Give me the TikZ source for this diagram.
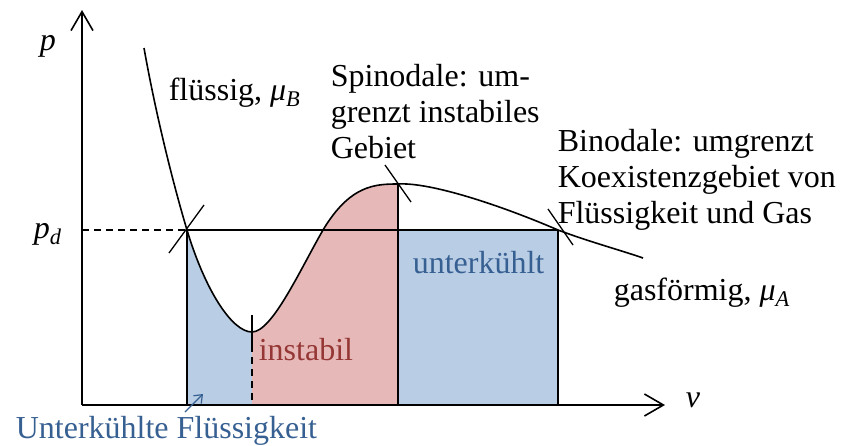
\documentclass[tikz,border=0pt]{standalone}
\usepackage{fontspec}
\setmainfont{Liberation Serif}
\usetikzlibrary{arrows.meta}

\definecolor{liqblue}{HTML}{B9CDE5}
\definecolor{instred}{HTML}{E6B9B8}
\definecolor{txtblue}{HTML}{376092}
\definecolor{txtred}{HTML}{953735}

\newcommand{\mvar}[1]{\textit{#1}}
\newcommand{\phase}[2]{#1, \mvar{μ}\textsubscript{\mvar{#2}}}
\tikzset{
            axis/.style={-{Straight Barb[length=19pt,width=22pt,line width=1.6pt]}},
            crosstick/.style={line width=1.3pt},
            dashline/.style={dash pattern=on 7pt off 5pt}
        }

\begin{document}
\begin{tikzpicture}[
                    x=1pt, y=-1pt,
                    line width=1.6pt,
                    every node/.style={font=\fontsize{32}{36}\selectfont, inner sep=0pt, anchor=base west, align=left}
                    ]
                \useasboundingbox (0,0) rectangle (846,445);
                \coordinate (o) at (82,405);
                \coordinate (bl) at (187,230);
                \coordinate (sl) at (252,332);
                \coordinate (sr) at (398,184);
                \coordinate (br) at (558,230);
                % regions
                \fill[liqblue] (bl) .. controls (205,290) and (232,332) .. (sl) |- (187,405) -- cycle;
                \fill[instred] (sl) .. controls (272,332) and (300,270) .. (323,230)
                    .. controls (350,185) and (375,184) .. (sr) |- (252,405) -- cycle;
                \fill[liqblue] (398,230) rectangle (558,405);
                % pressure line and borders
                \draw[dashline] (82,230) -- (bl);
                \draw (bl) -- (br);
                \draw (bl) -- (187,405);
                \draw (sr) -- (398,405);
                \draw (br) -- (558,405);
                \draw (252,315) -- (252,345);
                \draw[dashline] (252,345) -- (252,405);
                % isotherm
                \draw (144,48) .. controls (155,110) and (172,180) .. (bl)
                    .. controls (205,290) and (232,332) .. (sl)
                    .. controls (272,332) and (300,270) .. (323,230)
                    .. controls (350,185) and (375,184) .. (sr)
                    .. controls (430,182) and (500,205) .. (br)
                    .. controls (590,242) and (620,250) .. (643,258);
                \draw[crosstick] (169,253) -- (204,205);
                \draw[crosstick] (385,165) -- (411,202);
                \draw[crosstick] (548,209) -- (573,245);
                % axes
                \draw[axis] (o) -- (82,10);
                \draw[axis] (o) -- (665,405);
                \node (plbl) at (39,50) {\mvar{p}};
                \node (pdlbl) at (33,238) {\mvar{p}\textsubscript{\mvar{d}}};
                \node (vlbl) at (685,407) {\mvar{ν}};
                % labels (base = last line)
                \node (liq) at (168,100) {\phase{flüssig}{B}};
                \node (gas) at (613,300) {\phase{gasförmig}{A}};
                \node (spin) at (330,158) {Spinodale: um-\\grenzt instabiles\\Gebiet};
                \node (bin) at (557,223) {Binodale: umgrenzt\\Koexistenzgebiet von\\Flüssigkeit und Gas};
                \node[text=txtblue] (sub) at (412,273) {unterkühlt};
                \node[text=txtred] (inst) at (258,360) {instabil};
                \node[text=txtblue] (subliq) at (15,438) {Unterkühlte Flüssigkeit};
                \coordinate (subtip) at (203,394);
                \draw[txtblue, line width=1.2pt, -{Straight Barb[length=7pt,width=11pt]}] (185,412) -- (subtip);
            \end{tikzpicture}
\end{document}
